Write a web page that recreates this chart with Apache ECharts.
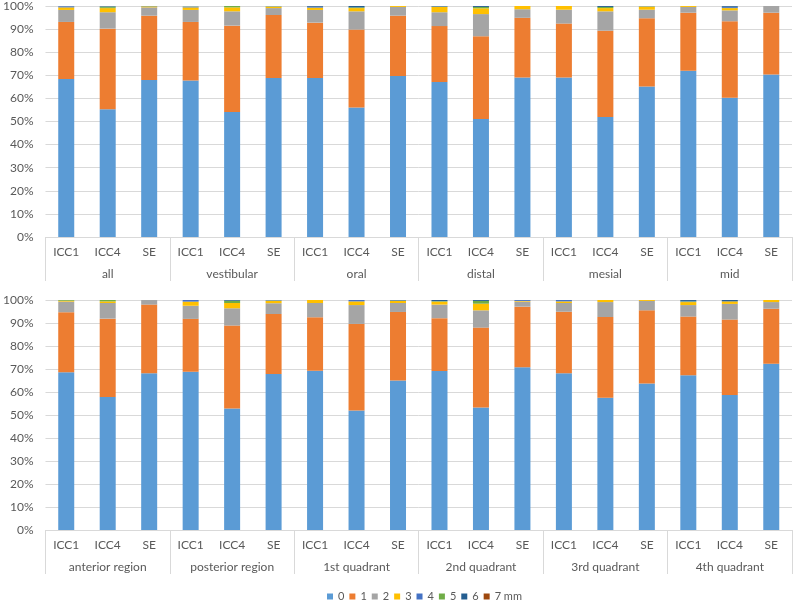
<!DOCTYPE html>
<html>
<head>
<meta charset="utf-8">
<script src="https://cdn.jsdelivr.net/npm/echarts@6/dist/echarts.min.js"></script>
<style>
	html, body { margin: 0; padding: 0; background: #fff; }
	#chart { width: 794px; height: 602px; }
</style>
</head>
<body>
<div id="chart"></div>
<script>
// bar labels inside each group
const methods = ['ICC1', 'ICC4', 'SE']
const topGroups = ['all', 'vestibular', 'oral', 'distal', 'mesial', 'mid']
const bottomGroups = ['anterior region', 'posterior region', '1st quadrant', '2nd quadrant', '3rd quadrant', '4th quadrant']
const seriesNames = ['0', '1', '2', '3', '4', '5', '6', '7 mm']
const colors = ['#5B9BD5', '#ED7D31', '#A5A5A5', '#FFC000', '#4472C4', '#70AD47', '#255E91', '#9E480E']

// top panel, share in % per depth (ICC1, ICC4, SE for each group)
const top0 = [68.4, 55.3, 68.0, 67.7, 54.1, 68.8, 68.8, 56.1, 69.7, 67.1, 51.1, 69.0, 69.0, 52.0, 65.2, 72.0, 60.3, 70.3]
const top1 = [24.7, 34.9, 27.8, 25.4, 37.4, 27.3, 24.0, 33.7, 26.1, 24.2, 35.8, 25.9, 23.4, 37.3, 29.5, 25.1, 33.1, 26.8]
const top2 = [5.2, 7.1, 3.6, 5.2, 6.2, 3.0, 5.5, 7.9, 3.8, 6.0, 9.6, 3.7, 6.0, 8.4, 3.7, 2.5, 4.7, 2.9]
const top3 = [1.1, 1.8, 0.4, 1.1, 1.7, 0.6, 1.0, 1.4, 0.4, 2.3, 2.5, 1.4, 1.6, 1.4, 1.3, 0.4, 1.0, 0]
const top4 = [0.4, 0.1, 0.1, 0.3, 0, 0.1, 0.4, 0, 0, 0.2, 0, 0, 0, 0, 0.1, 0, 0.4, 0]
const top5 = [0, 0.5, 0.1, 0.1, 0.6, 0.1, 0, 0.3, 0, 0.1, 0.6, 0, 0, 0.5, 0.1, 0, 0, 0]
const top6 = [0.1, 0.2, 0, 0, 0, 0, 0.3, 0.6, 0, 0.1, 0.4, 0, 0, 0.4, 0, 0, 0.4, 0]
const top7 = [0, 0, 0, 0, 0, 0, 0, 0, 0, 0, 0, 0, 0, 0, 0, 0, 0, 0]

// bottom panel
const bot0 = [68.6, 57.8, 68.1, 68.8, 52.8, 67.8, 69.2, 52.0, 65.0, 69.1, 53.3, 70.8, 68.2, 57.5, 63.7, 67.3, 58.7, 72.3]
const bot1 = [26.1, 34.1, 29.9, 23.0, 36.1, 26.1, 23.3, 37.6, 29.8, 23.0, 34.7, 26.3, 26.7, 35.1, 31.8, 25.5, 32.8, 23.9]
const bot2 = [4.6, 6.8, 2.0, 5.7, 7.5, 4.7, 6.2, 8.2, 3.9, 5.9, 7.5, 2.2, 3.8, 6.5, 4.1, 5.0, 6.8, 2.9]
const bot3 = [0.4, 0.7, 0, 1.8, 2.3, 1.0, 1.3, 1.6, 0.9, 1.3, 2.9, 0.3, 0.7, 0.9, 0.4, 1.3, 1.1, 0.9]
const bot4 = [0, 0, 0, 0.7, 0, 0.1, 0, 0.6, 0.2, 0, 0, 0.4, 0.6, 0, 0, 0.3, 0, 0]
const bot5 = [0.3, 0.6, 0, 0, 1.0, 0.1, 0, 0, 0.1, 0.2, 1.2, 0, 0, 0, 0, 0.2, 0, 0]
const bot6 = [0, 0, 0, 0, 0.3, 0.1, 0, 0, 0.1, 0.5, 0.4, 0, 0, 0, 0, 0.4, 0.6, 0]
const bot7 = [0, 0, 0, 0, 0, 0, 0, 0, 0, 0, 0, 0, 0, 0, 0, 0, 0, 0]

const topData = [top0, top1, top2, top3, top4, top5, top6, top7]
const botData = [bot0, bot1, bot2, bot3, bot4, bot5, bot6, bot7]

const fontFamily = 'Lato, "DejaVu Sans", sans-serif'
const textColor = '#595959'
const lineColor = '#D9D9D9'

const innerLabels = topGroups.flatMap(() => methods)

const makeAxes = (gridIndex, groups) => [
	{
		type: 'category',
		gridIndex: gridIndex,
		data: innerLabels,
		axisTick: { show: false },
		axisLine: { lineStyle: { color: lineColor } },
		axisLabel: { color: textColor, fontFamily: fontFamily, fontSize: 12, margin: 9, interval: 0 }
	},
	{
		type: 'category',
		gridIndex: gridIndex,
		position: 'bottom',
		data: groups,
		axisLine: { show: false },
		axisTick: { show: true, length: 44, lineStyle: { color: lineColor } },
		axisLabel: { color: textColor, fontFamily: fontFamily, fontSize: 12, margin: 31, interval: 0 }
	}
]

const makeYAxis = (gridIndex) => ({
	type: 'value',
	gridIndex: gridIndex,
	min: 0,
	max: 100,
	interval: 10,
	axisLabel: { formatter: '{value}%', color: textColor, fontFamily: fontFamily, fontSize: 12, margin: 12 },
	axisLine: { show: false },
	axisTick: { show: false },
	splitLine: { lineStyle: { color: lineColor } }
})

const series = []
topData.forEach((values, i) => {
	series.push({
		name: seriesNames[i],
		type: 'bar',
		stack: 'top',
		xAxisIndex: 0,
		yAxisIndex: 0,
		barWidth: 16,
		itemStyle: { color: colors[i] },
		data: values
	})
})
botData.forEach((values, i) => {
	series.push({
		name: seriesNames[i],
		type: 'bar',
		stack: 'bottom',
		xAxisIndex: 2,
		yAxisIndex: 1,
		barWidth: 16,
		itemStyle: { color: colors[i] },
		data: values
	})
})

const chart = echarts.init(document.getElementById('chart'))

chart.setOption({
	animation: false,
	color: colors,
	grid: [
		{ left: 39, right: 2, top: 6, height: 231 },
		{ left: 39, right: 2, top: 300, height: 230 }
	],
	xAxis: [...makeAxes(0, topGroups), ...makeAxes(1, bottomGroups)],
	yAxis: [makeYAxis(0), makeYAxis(1)],
	legend: {
		data: seriesNames,
		top: 591,
		left: 327,
		padding: 0,
		icon: 'rect',
		itemWidth: 6,
		itemHeight: 6,
		itemGap: 5,
		textStyle: { color: textColor, fontFamily: fontFamily, fontSize: 11 }
	},
	series: series
})
</script>
</body>
</html>
